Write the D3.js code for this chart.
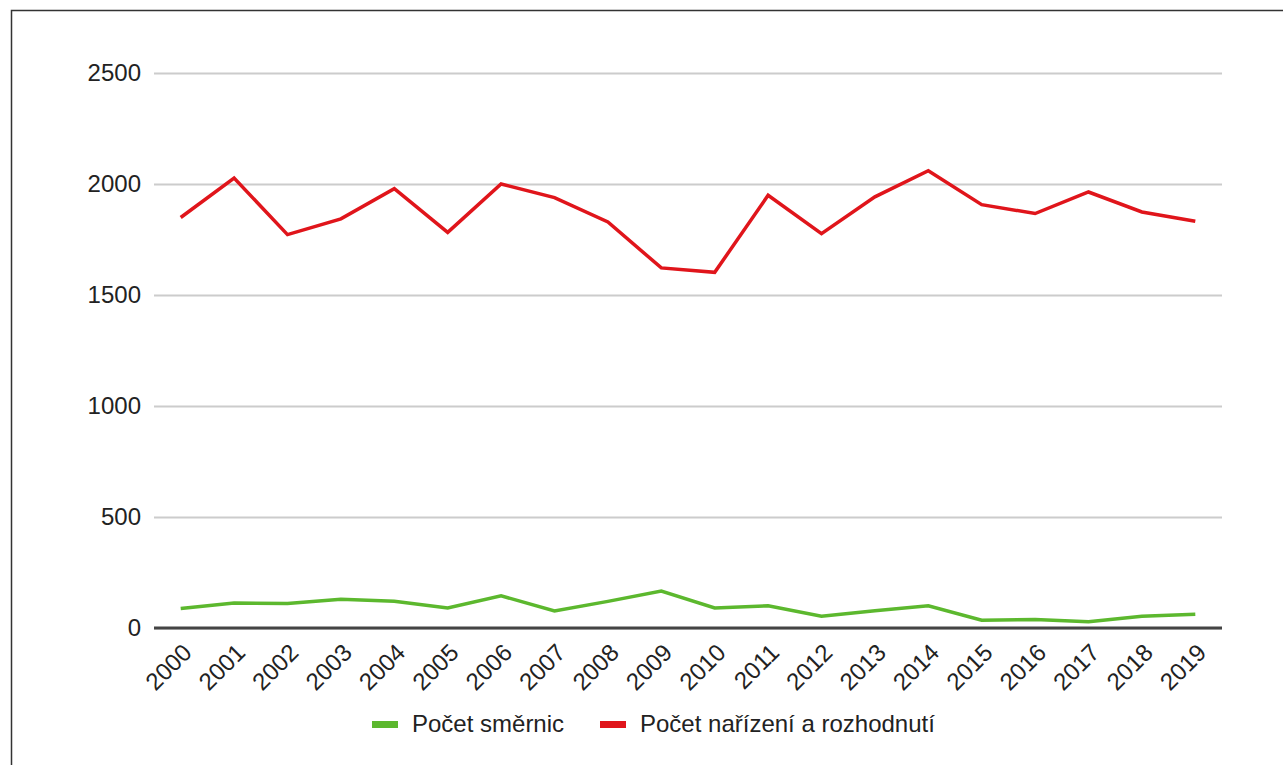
<!DOCTYPE html>
<html>
<head>
<meta charset="utf-8">
<script src="https://cdn.jsdelivr.net/npm/d3@7"></script>
<style>
  html, body { margin: 0; padding: 0; background: #fff; }
  svg { display: block; }
  text { font-family: "Liberation Sans", Arial, sans-serif; fill: #222; }
</style>
</head>
<body>
<svg id="chart" width="1283" height="765"></svg>
<script>
// Legislative acts adopted per year
const years = ["2000","2001","2002","2003","2004","2005","2006","2007","2008","2009",
               "2010","2011","2012","2013","2014","2015","2016","2017","2018","2019"];
const directives = [88, 113, 110, 130, 120, 90, 145, 77, 120, 166,
                    90, 100, 53, 78, 100, 35, 38, 28, 53, 62];
const regulations = [1849, 2027, 1772, 1843, 1979, 1782, 2000, 1939, 1829, 1622,
                     1602, 1949, 1776, 1942, 2060, 1907, 1867, 1964, 1874, 1832];
const yTicks = [0, 500, 1000, 1500, 2000, 2500];
const seriesNames = ["Počet směrnic", "Počet nařízení a rozhodnutí"];
const seriesColors = ["#5cb82e", "#e0151b"];

const svg = d3.select("#chart");
const W = 1283, H = 765;
const plot = { left: 154, right: 1222, top: 73, bottom: 628 };

// frame
svg.append("path")
  .attr("d", `M11.5,${H + 2} L11.5,10.5 L${W + 2},10.5`)
  .attr("fill", "none").attr("stroke", "#333").attr("stroke-width", 1.5);

const x = d3.scalePoint().domain(years).range([plot.left, plot.right]).padding(0.5);
const y = d3.scaleLinear().domain([0, 2500]).range([plot.bottom, plot.top]);

// gridlines + y labels
const yAxis = d3.axisLeft(y).tickValues(yTicks).tickFormat(d3.format("d"))
  .tickSize(-(plot.right - plot.left)).tickPadding(13);
const gy = svg.append("g").attr("transform", `translate(${plot.left},0)`).call(yAxis);
gy.select(".domain").remove();
gy.selectAll(".tick line").attr("stroke", "#cccccc").attr("stroke-width", 2);
gy.selectAll(".tick text").attr("font-size", 24).attr("fill", "#222")
  .style("font-family", "'Liberation Sans', Arial, sans-serif");

// x axis baseline and rotated year labels
const xAxis = d3.axisBottom(x).tickSize(0).tickSizeOuter(0);
const gx = svg.append("g").attr("transform", `translate(0,${plot.bottom})`).call(xAxis);
gx.select(".domain").attr("stroke", "#444").attr("stroke-width", 3)
  .attr("d", `M${plot.left},0H${plot.right}`);
gx.selectAll(".tick text")
  .attr("font-size", 24).attr("fill", "#222")
  .style("font-family", "'Liberation Sans', Arial, sans-serif")
  .attr("text-anchor", "end")
  .attr("dy", null).attr("y", 0)
  .attr("transform", "translate(12,26) rotate(-45)");

// series lines
const line = d3.line().x((d, i) => x(years[i])).y(d => y(d));
[directives, regulations].forEach((vals, k) => {
  svg.append("path").datum(vals)
    .attr("d", line)
    .attr("fill", "none")
    .attr("stroke", seriesColors[k])
    .attr("stroke-width", 3.5)
    .attr("stroke-linejoin", "miter");
});

// legend
const legendItems = [
  { name: seriesNames[0], color: seriesColors[0], x: 372 },
  { name: seriesNames[1], color: seriesColors[1], x: 600 }
];
const lg = svg.append("g");
legendItems.forEach(it => {
  lg.append("rect").attr("x", it.x).attr("y", 721).attr("width", 26).attr("height", 7)
    .attr("fill", it.color);
  lg.append("text").attr("x", it.x + 40).attr("y", 732)
    .attr("font-size", 24).attr("fill", "#222").text(it.name);
});
</script>
</body>
</html>
